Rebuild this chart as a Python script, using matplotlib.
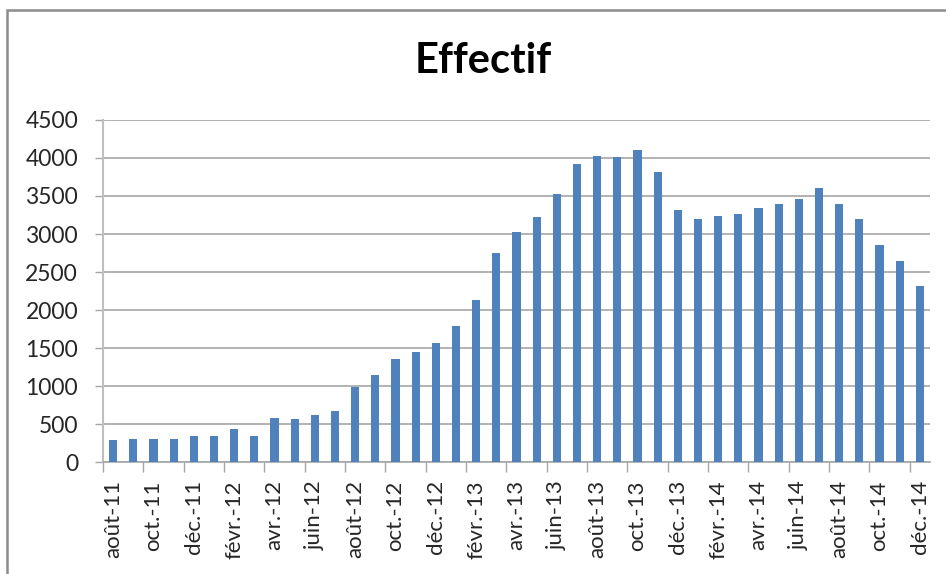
import numpy as np
import matplotlib.pyplot as plt
from matplotlib.patches import Rectangle

# Monthly headcount, août 2011 -> décembre 2014
months = ["août-11", "sept.-11", "oct.-11", "nov.-11", "déc.-11",
          "janv.-12", "févr.-12", "mars-12", "avr.-12", "mai-12", "juin-12", "juil.-12",
          "août-12", "sept.-12", "oct.-12", "nov.-12", "déc.-12",
          "janv.-13", "févr.-13", "mars-13", "avr.-13", "mai-13", "juin-13", "juil.-13",
          "août-13", "sept.-13", "oct.-13", "nov.-13", "déc.-13",
          "janv.-14", "févr.-14", "mars-14", "avr.-14", "mai-14", "juin-14", "juil.-14",
          "août-14", "sept.-14", "oct.-14", "nov.-14", "déc.-14"]
effectif = [290, 300, 300, 300, 340, 340, 430, 340, 585, 570, 620, 670,
            990, 1140, 1360, 1450, 1560, 1790, 2130, 2750, 3030, 3230, 3530, 3920,
            4030, 4010, 4100, 3820, 3310, 3200, 3240, 3260, 3340, 3400, 3460, 3610,
            3390, 3200, 2860, 2650, 2320]
y_ticks = [0, 500, 1000, 1500, 2000, 2500, 3000, 3500, 4000, 4500]

plt.rcParams['font.family'] = ['Lato', 'DejaVu Sans']

fig = plt.figure(figsize=(9.46, 5.74), dpi=100)
ax = fig.add_axes([0.109, 0.195, 0.874, 0.596])

x = np.arange(len(effectif))
ax.bar(x, effectif, width=0.4, color='#4f81bd', zorder=3)

ax.set_xlim(-0.5, len(effectif) - 0.5)
ax.set_ylim(0, 4500)
ax.set_yticks(y_ticks)
ax.tick_params(axis='y', labelsize=16.5, length=6, width=1, color='#a6a6a6',
               pad=12, labelcolor='#262626')
ax.yaxis.grid(True, color='#a6a6a6', linewidth=1.2, zorder=0)

# labels every other month, ticks on the category boundaries
ax.set_xticks(x[::2])
ax.set_xticklabels(months[::2], rotation=90, fontsize=16, color='#262626')
ax.tick_params(axis='x', which='major', length=0, pad=13)
ax.set_xticks(np.arange(-0.5, len(effectif) - 1, 2), minor=True)
ax.tick_params(axis='x', which='minor', length=7, width=1, color='#a6a6a6')

for side in ['top', 'right']:
    ax.spines[side].set_visible(False)
ax.spines['left'].set_color('#bfbfbf')
ax.spines['left'].set_linewidth(1.5)
ax.spines['bottom'].set_color('#a6a6a6')
ax.spines['bottom'].set_linewidth(1.2)

fig.text(0.511, 0.893, "Effectif", ha='center', va='center',
         fontsize=30, fontweight='bold', color='black')

# chart frame
fig.patches.append(Rectangle((7 / 946, -0.05), 1.2, 1 - 10 / 574 + 0.05,
                             transform=fig.transFigure, fill=False,
                             edgecolor='#8c8c8c', linewidth=1.8))

fig.savefig('out.png', dpi=100)
